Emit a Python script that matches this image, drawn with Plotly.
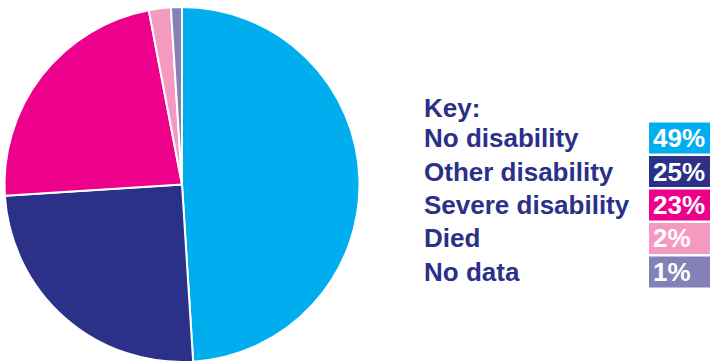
import plotly.graph_objects as go

labels = ["No disability", "Other disability", "Severe disability", "Died", "No data"]
values = [49, 25, 23, 2, 1]
colors = ["#00AEEF", "#2B3089", "#EC008C", "#F49AC1", "#8381B8"]
pct_labels = ["49%", "25%", "23%", "2%", "1%"]
key_title = "Key:"

W, H = 710, 362
TXT = "#2B3089"
FONT = "Liberation Sans, Arial, sans-serif"

fig = go.Figure(go.Pie(
    labels=labels, values=values, sort=False, direction="clockwise", rotation=0,
    marker=dict(colors=colors, line=dict(color="white", width=2)),
    textinfo="none", hoverinfo="label+percent", showlegend=False,
    domain=dict(x=[4.5 / W, 359.5 / W], y=[0, 355 / H]),
))

annotations = []
shapes = []

def py(ypix):
    return 1 - ypix / H

annotations.append(dict(text="<b>%s</b>" % key_title, x=422 / W, y=py(107.5), xref="paper", yref="paper",
                        xanchor="left", yanchor="middle", showarrow=False,
                        font=dict(family=FONT, size=26, color=TXT)))
row_c = [138, 171.5, 205, 238.5, 272]
for i, (lab, pct, col) in enumerate(zip(labels, pct_labels, colors)):
    yc = row_c[i]
    annotations.append(dict(text="<b>%s</b>" % lab, x=422 / W, y=py(yc), xref="paper", yref="paper",
                            xanchor="left", yanchor="middle", showarrow=False,
                            font=dict(family=FONT, size=26, color=TXT)))
    shapes.append(dict(type="rect", xref="paper", yref="paper", x0=649 / W, x1=1,
                       y0=py(yc + 15.5), y1=py(yc - 15.5), fillcolor=col, line=dict(width=0), layer="below"))
    annotations.append(dict(text="<b>%s</b>" % pct, x=651 / W, y=py(yc), xref="paper", yref="paper",
                            xanchor="left", yanchor="middle", showarrow=False,
                            font=dict(family=FONT, size=26, color="white")))

fig.update_layout(width=W, height=H, margin=dict(l=0, r=0, t=0, b=0),
                  paper_bgcolor="white", plot_bgcolor="white",
                  annotations=annotations, shapes=shapes)
fig.write_html("out.html", config={"displayModeBar": False},
               post_script="document.body.style.margin='0px';document.body.style.overflow='hidden';")
